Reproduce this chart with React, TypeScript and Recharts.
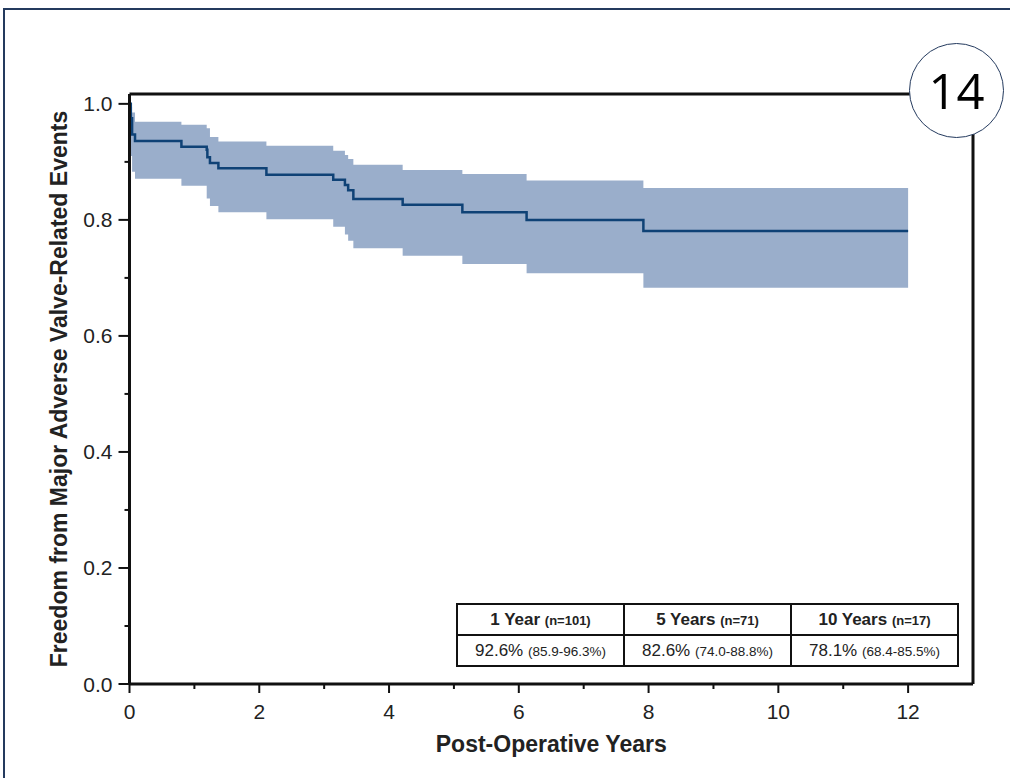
import React from 'react';
import { ComposedChart, Area, Line, XAxis, YAxis, ReferenceLine } from 'recharts';

// Kaplan-Meier estimate: freedom from major adverse valve-related events
const times = [0, 0.02, 0.04, 0.085, 0.8, 1.19, 1.2, 1.24, 1.37, 2.11, 3.14, 3.32, 3.37, 3.45, 4.21, 5.13, 6.12, 7.92, 12.0];
const survival = [1.0, 0.975, 0.947, 0.936, 0.926, 0.921, 0.908, 0.898, 0.889, 0.878, 0.869, 0.86, 0.851, 0.836, 0.826, 0.813, 0.8, 0.781, 0.781];
const lowerCI = [1.0, 0.91, 0.883, 0.871, 0.859, 0.837, 0.837, 0.824, 0.813, 0.801, 0.788, 0.775, 0.764, 0.751, 0.738, 0.724, 0.708, 0.683, 0.683];
const upperCI = [1.0, 0.995, 0.985, 0.969, 0.964, 0.958, 0.958, 0.943, 0.935, 0.928, 0.919, 0.912, 0.905, 0.895, 0.886, 0.879, 0.868, 0.855, 0.855];

const xTicks = [0, 1, 2, 3, 4, 5, 6, 7, 8, 9, 10, 11, 12];
const yTicks = [0, 0.1, 0.2, 0.3, 0.4, 0.5, 0.6, 0.7, 0.8, 0.9, 1.0];

const tableHeaders = ['1 Year', '5 Years', '10 Years'];
const tableN = ['(n=101)', '(n=71)', '(n=17)'];
const tableEstimates = ['92.6%', '82.6%', '78.1%'];
const tableCIs = ['(85.9-96.3%)', '(74.0-88.8%)', '(68.4-85.5%)'];

const data = times.map((t, i) => ({ t, s: survival[i], band: [lowerCI[i], upperCI[i]] }));

const FONT = '"Liberation Sans", Arial, Helvetica, sans-serif';
const INK = '#111111';

const XTick = (props: any) => {
  const { x, y, payload } = props;
  const v = payload.value;
  const major = v % 2 === 0;
  return (
    <g>
      <line x1={x} x2={x} y1={y} y2={y + (major ? 9 : 5)} stroke={INK} strokeWidth={2} />
      {major && (
        <text x={x} y={y + 35} textAnchor="middle" fontFamily={FONT} fontSize={21} fill="#222">
          {v}
        </text>
      )}
    </g>
  );
};

const YTick = (props: any) => {
  const { x, y, payload } = props;
  const v = payload.value;
  const major = Math.round(v * 10) % 2 === 0;
  return (
    <g>
      <line x1={x} x2={x - (major ? 11 : 5)} y1={y} y2={y} stroke={INK} strokeWidth={2} />
      {major && (
        <text x={x - 17} y={y + 7.5} textAnchor="end" fontFamily={FONT} fontSize={21} fill="#222">
          {v.toFixed(1)}
        </text>
      )}
    </g>
  );
};

const XLabel = (props: any) => {
  const vb = props.viewBox || { x: 0, y: 0, width: 0, height: 0 };
  return (
    <text x={vb.x + vb.width / 2} y={vb.y + 68} textAnchor="middle" fontFamily={FONT} fontWeight="bold" fontSize={23} fill="#222">
      Post-Operative Years
    </text>
  );
};

const YLabel = (props: any) => {
  const vb = props.viewBox || { x: 0, y: 0, width: 0, height: 0 };
  const cx = 67;
  const cy = vb.y + vb.height / 2;
  return (
    <text x={cx} y={cy} transform={`rotate(-90 ${cx} ${cy})`} textAnchor="middle" fontFamily={FONT} fontWeight="bold" fontSize={23} fill="#222">
      Freedom from Major Adverse Valve-Related Events
    </text>
  );
};

const cellBase: React.CSSProperties = {
  border: `2px solid ${INK}`,
  textAlign: 'center',
  padding: 0,
  color: '#222',
  whiteSpace: 'nowrap',
};

export default function App() {
  return (
    <div style={{ position: 'absolute', left: 0, top: 0, width: 1010, height: 778, background: '#fff', overflow: 'hidden' }}>
      <div
        style={{
          position: 'absolute',
          left: 3,
          top: 8,
          width: 1020,
          height: 800,
          borderLeft: '2px solid #243a5e',
          borderTop: '2px solid #243a5e',
        }}
      />
      <div style={{ position: 'absolute', left: 0, top: 0 }}>
        <ComposedChart width={1010} height={778} data={data} margin={{ top: 94, right: 37, bottom: 0, left: 0 }}>
          <XAxis
            dataKey="t"
            type="number"
            domain={[0, 13]}
            ticks={xTicks}
            interval={0}
            height={94}
            tickSize={0}
            tickMargin={0}
            tickLine={false}
            axisLine={{ stroke: INK, strokeWidth: 3 }}
            tick={<XTick />}
            label={<XLabel />}
          />
          <YAxis
            type="number"
            domain={[0, 1.017]}
            ticks={yTicks}
            interval={0}
            width={129.5}
            tickSize={0}
            tickMargin={0}
            tickLine={false}
            axisLine={{ stroke: INK, strokeWidth: 3 }}
            tick={<YTick />}
            label={<YLabel />}
            allowDataOverflow
          />
          <Area
            dataKey="band"
            type="stepAfter"
            stroke="none"
            fill="#9aaecb"
            fillOpacity={1}
            isAnimationActive={false}
            dot={false}
            activeDot={false}
          />
          <Line
            dataKey="s"
            type="stepAfter"
            stroke="#0f4276"
            strokeWidth={2.5}
            dot={false}
            activeDot={false}
            isAnimationActive={false}
          />
          <ReferenceLine y={1.017} stroke={INK} strokeWidth={3} ifOverflow="visible" />
          <ReferenceLine x={13} stroke={INK} strokeWidth={3} ifOverflow="visible" />
        </ComposedChart>
      </div>
      <table
        style={{
          position: 'absolute',
          left: 456,
          top: 603,
          width: 503,
          height: 62,
          borderCollapse: 'collapse',
          fontFamily: FONT,
          background: '#fff',
          tableLayout: 'fixed',
        }}
      >
        <tbody>
          <tr style={{ height: 31 }}>
            {tableHeaders.map((h, i) => (
              <td key={h} style={{ ...cellBase, fontWeight: 'bold', fontSize: 17 }}>
                {h} <span style={{ fontSize: 13 }}>{tableN[i]}</span>
              </td>
            ))}
          </tr>
          <tr style={{ height: 31 }}>
            {tableEstimates.map((e, i) => (
              <td key={e} style={{ ...cellBase, fontSize: 17 }}>
                {e} <span style={{ fontSize: 13.5 }}>{tableCIs[i]}</span>
              </td>
            ))}
          </tr>
        </tbody>
      </table>
      <div
        style={{
          position: 'absolute',
          left: 909,
          top: 43,
          width: 95,
          height: 95,
          boxSizing: 'border-box',
          borderRadius: '50%',
          border: '1.5px solid #243a5e',
          background: '#fff',
          display: 'flex',
          alignItems: 'center',
          justifyContent: 'center',
          fontFamily: '"Open Sans", "Liberation Sans", Arial, sans-serif',
          fontSize: 49,
          color: '#000',
          lineHeight: 1,
        }}
      >
        14
      </div>
    </div>
  );
}
